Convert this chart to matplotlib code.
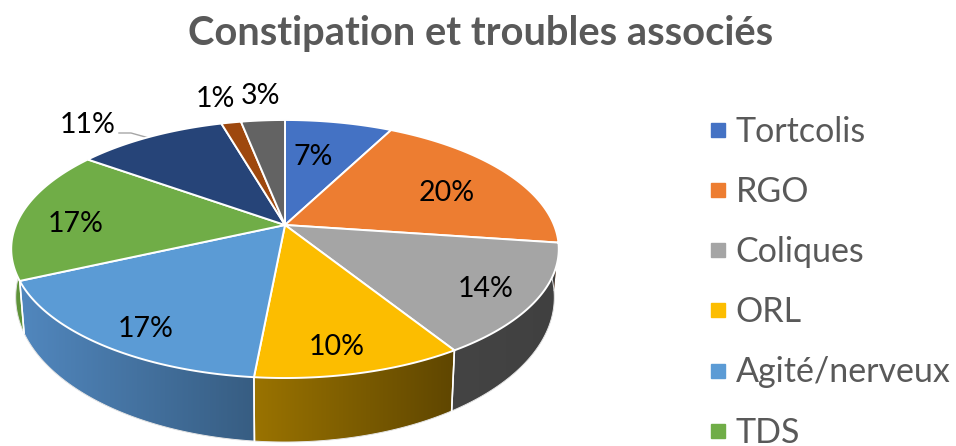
#!/usr/bin/env python3
"""3D-look pie chart, drawn by hand since matplotlib's pie has no depth."""
import numpy as np
import matplotlib
matplotlib.use("Agg")
import matplotlib.pyplot as plt
from matplotlib.colors import LinearSegmentedColormap
from matplotlib.lines import Line2D
from matplotlib.patches import Polygon

plt.rcParams["font.family"] = ["Lato", "DejaVu Sans"]

TITLE = "Constipation et troubles associés"
LEGEND_NAMES = ["Tortcolis", "RGO", "Coliques", "ORL", "Agité/nerveux", "TDS"]
SHARES = [7.6, 19.6, 13.9, 10.4, 16.7, 16.7, 10.6, 1.4, 3.1]
PCT_LABELS = ["7%", "20%", "14%", "10%", "17%", "17%", "11%", "1%", "3%"]
COLORS = ["#4472C4", "#ED7D31", "#A5A5A5", "#FCBD00", "#5B9BD5", "#70AD47",
          "#264478", "#9E480E", "#636363"]
WALL_LEFT = ["#2f5090", "#a85820", "#444444", "#9A7300", "#5187BE", "#5F9339",
             "#1a3058", "#6e320a", "#454545"]
WALL_RIGHT = ["#2f5090", "#a85820", "#404040", "#5F4600", "#375D82", "#5F9339",
              "#1a3058", "#6e320a", "#454545"]

# perspective: circle -> screen pixels, near side is larger
K = -0.186
CX = 285
TOP = dict(a=269, c=225, b=82.7)
BOTTOM = dict(a=264.6, c=270.4, b=89.4)


def project(theta, rim):
    # theta clockwise from 12 o'clock
    u, v = np.sin(theta), -np.cos(theta)
    w = 1 + K * v
    return CX + rim["a"] * u / w, (rim["c"] + rim["b"] * v) / w


fig = plt.figure(figsize=(9.56, 4.46), dpi=100)
ax = fig.add_axes([0, 0, 1, 1])

edges = np.cumsum([0] + SHARES) / sum(SHARES) * 2 * np.pi

# side wall, back to front so the near slices end on top
order = np.argsort([-np.cos((edges[i] + edges[i + 1]) / 2) for i in range(len(SHARES))])
for i in order:
    t = np.linspace(edges[i], edges[i + 1], 120)
    xt, yt = project(t, TOP)
    xb, yb = project(t, BOTTOM)
    wall = Polygon(np.r_[np.c_[xt, yt], np.c_[xb, yb][::-1]], closed=True,
                   fc="none", ec="none")
    ax.add_patch(wall)
    cmap = LinearSegmentedColormap.from_list("w", [WALL_LEFT[i], WALL_RIGHT[i]])
    x0, x1 = min(xt.min(), xb.min()), max(xt.max(), xb.max())
    y0, y1 = min(yt.min(), yb.min()), max(yt.max(), yb.max())
    im = ax.imshow(np.linspace(0, 1, 256)[None, :], cmap=cmap, aspect="auto",
                   extent=(x0, x1, y1, y0), zorder=1, interpolation="bilinear")
    im.set_clip_path(wall)
    ax.plot(xb, yb, color="#e4e4e4", lw=0.7, zorder=2)
    # white seams between slices on the near side
    for e in (edges[i], edges[i + 1]):
        if -np.cos(e) > 0.2:
            xa, ya = project(e, TOP)
            xc, yc = project(e, BOTTOM)
            ax.plot([xa, xc], [ya, yc], color="white", lw=1.1, zorder=2)

# top face
cy = TOP["c"]
for i, color in enumerate(COLORS):
    t = np.linspace(edges[i], edges[i + 1], 120)
    xt, yt = project(t, TOP)
    pts = np.r_[[[CX, cy]], np.c_[xt, yt]]
    ax.add_patch(Polygon(pts, closed=True, fc=color, ec="white", lw=1.4, zorder=3))

# data labels
label_xy = [(313, 157), (447, 193), (486, 289), (337, 347), (146, 329),
            (76, 224), (88, 125), (215, 99), (261, 96)]
for (x, y), s in zip(label_xy, PCT_LABELS):
    ax.text(x, y, s, fontsize=20.5, color="black", ha="center", va="center", zorder=5)
ax.plot([119, 131, 149], [133, 133, 138], color="#a6a6a6", lw=1.0, zorder=2)

ax.text(481, 33, TITLE, fontsize=28.7, fontweight="bold", color="#595959",
        ha="center", va="center")

handles = [Line2D([0], [0], ls="none", marker="s", ms=10.5, mfc=c, mec=c, label=n)
           for n, c in zip(LEGEND_NAMES, COLORS)]
leg = ax.legend(handles=handles, loc="upper left", bbox_to_anchor=(0.733, 0.741),
                frameon=False, fontsize=24.5, labelcolor="#595959",
                labelspacing=0.83, handletextpad=0.03, handlelength=1.0,
                borderpad=0, borderaxespad=0)

ax.set_xlim(0, 956)
ax.set_ylim(446, 0)
ax.axis("off")
fig.savefig("out.png", dpi=100)
plt.close(fig)
